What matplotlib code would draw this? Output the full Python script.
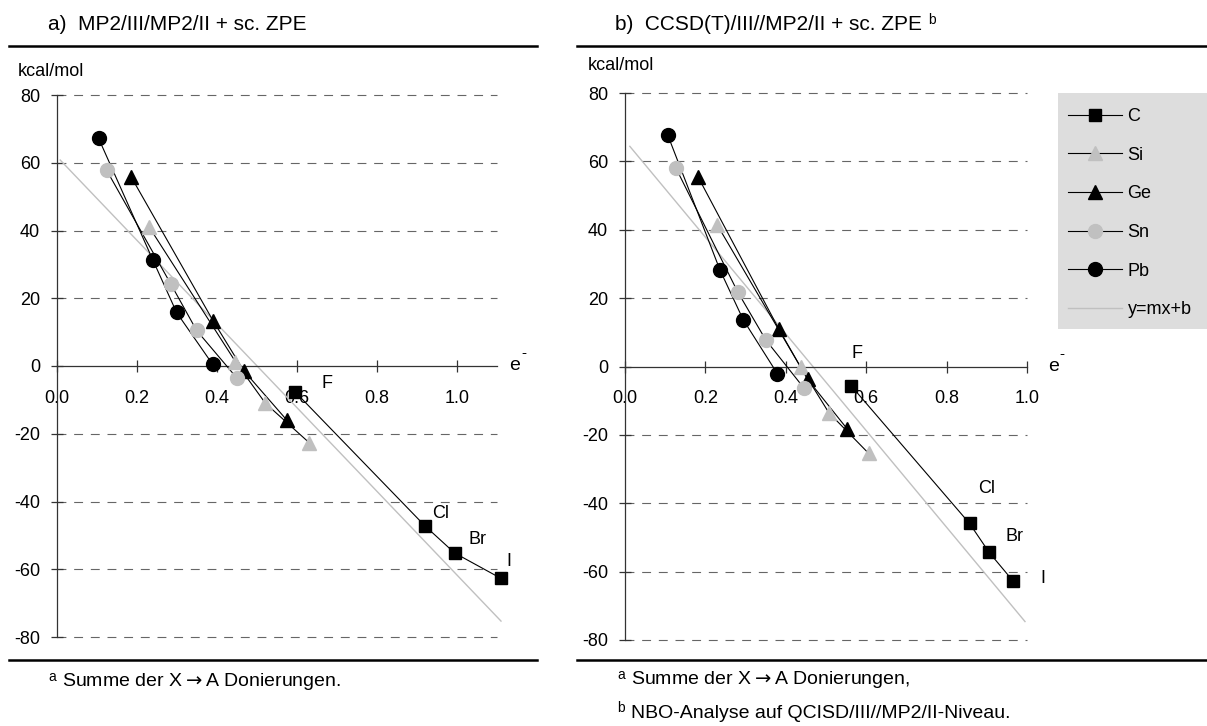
import matplotlib
matplotlib.use("Agg")
import matplotlib.pyplot as plt
from matplotlib.lines import Line2D
from matplotlib.patches import Rectangle

plt.rcParams['font.family'] = ['Liberation Sans', 'DejaVu Sans']
NARROW = ['Liberation Sans Narrow', 'Liberation Sans', 'DejaVu Sans']

# ---- data -------------------------------------------------------------
series = ['C', 'Si', 'Ge', 'Sn', 'Pb']
halogens = ['F', 'Cl', 'Br', 'I']

# panel a) MP2/III//MP2/II
a_C_x = [0.595, 0.919, 0.994, 1.110]
a_C_y = [-7.6, -47.1, -55.2, -62.7]
a_Si_x = [0.230, 0.446, 0.521, 0.631]
a_Si_y = [41.1, 1.3, -11.0, -22.7]
a_Ge_x = [0.186, 0.390, 0.467, 0.574]
a_Ge_y = [55.7, 13.4, -1.4, -15.9]
a_Sn_x = [0.124, 0.285, 0.349, 0.450]
a_Sn_y = [57.8, 24.1, 10.5, -3.6]
a_Pb_x = [0.104, 0.240, 0.299, 0.389]
a_Pb_y = [67.2, 31.2, 15.8, 0.5]
a_fit_x = [0.008, 1.110]
a_fit_y = [60.8, -75.3]

# panel b) CCSD(T)/III//MP2/II
b_C_x = [0.563, 0.857, 0.906, 0.965]
b_C_y = [-5.7, -45.9, -54.4, -62.7]
b_Si_x = [0.230, 0.437, 0.507, 0.606]
b_Si_y = [41.3, -0.2, -13.5, -25.4]
b_Ge_x = [0.182, 0.383, 0.454, 0.553]
b_Ge_y = [55.4, 10.9, -3.7, -18.3]
b_Sn_x = [0.126, 0.280, 0.350, 0.445]
b_Sn_y = [58.2, 21.9, 7.8, -6.3]
b_Pb_x = [0.106, 0.236, 0.294, 0.379]
b_Pb_y = [67.8, 28.3, 13.7, -2.1]
b_fit_x = [0.012, 0.995]
b_fit_y = [64.4, -74.6]

y_ticks = [80, 60, 40, 20, 0, -20, -40, -60, -80]
a_x_ticks = [0.0, 0.2, 0.4, 0.6, 0.8, 1.0]
b_x_ticks = [0.0, 0.2, 0.4, 0.6, 0.8, 1.0]

# ---- styles -----------------------------------------------------------
GRAY = '#c0c0c0'
style = {
    'C': dict(marker='s', color='black', ms=9),
    'Si': dict(marker='^', color=GRAY, ms=10),
    'Ge': dict(marker='^', color='black', ms=10),
    'Sn': dict(marker='o', color=GRAY, ms=10),
    'Pb': dict(marker='o', color='black', ms=10),
}

W, H = 1207, 726
fig = plt.figure(figsize=(W / 100, H / 100), dpi=100)


def fx(px):
    return px / W


def fy(py):
    return 1 - py / H


def panel(rect, xmax, data, fit, labels, label_pos, xticks, e_off):
    ax = fig.add_axes(rect)
    ax.set_xlim(0, xmax)
    ax.set_ylim(-80, 80)
    for s in ['top', 'right']:
        ax.spines[s].set_visible(False)
    ax.spines['bottom'].set_position(('data', 0))
    ax.spines['left'].set_position(('data', 0))
    for s in ['bottom', 'left']:
        ax.spines[s].set_color('#333333')
        ax.spines[s].set_linewidth(0.9)
    ax.set_yticks(y_ticks)
    ax.set_yticklabels([str(v) for v in y_ticks])
    ax.set_xticks(xticks)
    ax.set_xticklabels([f'{v:.1f}' for v in xticks])
    ax.tick_params(axis='both', direction='inout', length=8.5, width=0.9,
                   color='#333333', labelsize=13)
    ax.tick_params(axis='y', pad=8)
    ax.tick_params(axis='x', pad=13)
    for v in y_ticks:
        if v != 0:
            ax.plot([0, xmax], [v, v], color='#666666', lw=0.8,
                    ls=(0, (8, 7)), zorder=1, clip_on=False)
    ax.plot(fit[0], fit[1], color=GRAY, lw=1.0, zorder=2, clip_on=False)
    for name, (xs, ys) in zip(series, data):
        st = style[name]
        ax.plot(xs, ys, color='black', lw=0.8, zorder=3, clip_on=False)
        ax.plot(xs, ys, ls='none', marker=st['marker'], ms=st['ms'],
                mfc=st['color'], mec=st['color'], zorder=4, clip_on=False)
    for t, (lx, ly) in zip(labels, label_pos):
        ax.text(lx, ly, t, fontsize=13, ha='center', va='center', zorder=5)
    ax.annotate('e', xy=(xmax, 0), xytext=(e_off, 0), textcoords='offset points',
                fontsize=14, ha='center', va='center')
    ax.annotate('-', xy=(xmax, 0), xytext=(e_off + 6, 9),
                textcoords='offset points', fontsize=11, ha='center',
                va='center')
    return ax


ax_a = panel([fx(57), fy(637), fx(497) - fx(57), fy(95) - fy(637)], 1.1,
             [(a_C_x, a_C_y), (a_Si_x, a_Si_y), (a_Ge_x, a_Ge_y),
              (a_Sn_x, a_Sn_y), (a_Pb_x, a_Pb_y)],
             (a_fit_x, a_fit_y), halogens,
             [(0.675, -5.3), (0.96, -43.6), (1.05, -51.2), (1.13, -57.8)],
             a_x_ticks, 13)

ax_b = panel([fx(625), fy(640), fx(1027) - fx(625), fy(93) - fy(640)], 1.0,
             [(b_C_x, b_C_y), (b_Si_x, b_Si_y), (b_Ge_x, b_Ge_y),
              (b_Sn_x, b_Sn_y), (b_Pb_x, b_Pb_y)],
             (b_fit_x, b_fit_y), halogens,
             [(0.576, 3.8), (0.90, -35.6), (0.97, -49.8), (1.04, -62.0)],
             b_x_ticks, 19)

# unit labels
fig.text(fx(18), fy(72), 'kcal/mol', fontsize=13, ha='left', va='center')
fig.text(fx(588), fy(66), 'kcal/mol', fontsize=13, ha='left', va='center')

# titles
fig.text(fx(48), fy(25), 'a)  MP2/III/MP2/II + sc. ZPE', fontsize=15,
         family=NARROW, ha='left', va='center')
tb = fig.text(fx(615), fy(25), 'b)  CCSD(T)/III//MP2/II + sc. ZPE ', fontsize=15,
              family=NARROW, ha='left', va='center')
fig.canvas.draw()
bb = tb.get_window_extent()
fig.text(bb.x1 / W, fy(20), 'b', fontsize=10, family=NARROW,
         ha='left', va='center')

# horizontal rules
for (x0, x1) in [(9, 537), (577, 1207)]:
    for y in (46, 660):
        fig.add_artist(Line2D([fx(x0), fx(x1)], [fy(y), fy(y)], color='black',
                              lw=1.8, transform=fig.transFigure))

# footnotes
ARROW = r'$\rightarrow$'


def footnote(x, y, mark, text):
    fig.text(fx(x), fy(y - 5), mark, fontsize=10, family=NARROW,
             ha='left', va='center')
    fig.text(fx(x + 14), fy(y), text, fontsize=14, family=NARROW,
             ha='left', va='center')

footnote(48, 682, 'a', 'Summe der X' + ARROW + 'A Donierungen.')
footnote(617, 680, 'a', 'Summe der X' + ARROW + 'A Donierungen,')
footnote(617, 713, 'b', 'NBO-Analyse auf QCISD/III//MP2/II-Niveau.')

# legend on a grey panel
fig.add_artist(Rectangle((fx(1058), fy(329)), fx(1207) - fx(1058),
                         fy(93) - fy(329), transform=fig.transFigure,
                         facecolor='#dddddd', edgecolor='none', zorder=0))
handles = []
for name in series:
    st = style[name]
    handles.append(Line2D([], [], color='black', lw=0.8, marker=st['marker'],
                          ms=st['ms'], mfc=st['color'], mec=st['color']))
handles.append(Line2D([], [], color=GRAY, lw=1.0))
fig.legend(handles, series + ['y=mx+b'], loc='upper left',
           bbox_to_anchor=(fx(1058), fy(98)), frameon=False, fontsize=13,
           handlelength=3.0, labelspacing=1.2, borderpad=0.55,
           borderaxespad=0, handletextpad=0.3)

fig.savefig('out.png', dpi=100)
